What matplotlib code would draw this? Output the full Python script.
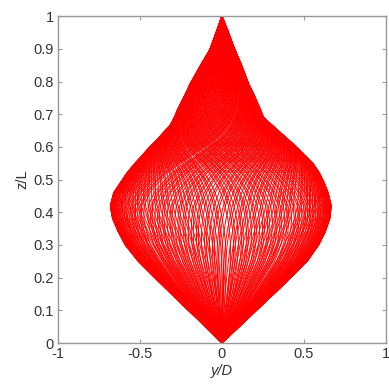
import numpy as np
import matplotlib
matplotlib.use("Agg")
import matplotlib.pyplot as plt

plt.rcParams['font.family'] = ['Liberation Sans', 'DejaVu Sans']

# Response envelope along the riser (max / min y/D at each z/L station)
z_nodes = [0.0, 0.05, 0.1, 0.18, 0.25, 0.3, 0.34, 0.38, 0.42, 0.46, 0.49, 0.52,
           0.55, 0.6, 0.62, 0.667, 0.69, 0.713, 0.76, 0.794, 0.85, 0.896, 0.95, 1.0]
env_right = [0.0, 0.105, 0.21, 0.38, 0.52, 0.59, 0.63, 0.658, 0.667, 0.648, 0.624, 0.595,
             0.555, 0.455, 0.41, 0.305, 0.254, 0.236, 0.195, 0.162, 0.12, 0.08, 0.04, 0.0]
env_left = [0.0, -0.10, -0.205, -0.37, -0.51, -0.59, -0.632, -0.667, -0.681, -0.66, -0.62, -0.58,
            -0.53, -0.44, -0.40, -0.315, -0.29, -0.272, -0.225, -0.193, -0.13, -0.075, -0.035, 0.0]
# phase lag of the response along the span (rad)
phase_nodes = [0.0, 0.0, 0.005, 0.01, 0.02, 0.03, 0.045, 0.065, 0.09, 0.13, 0.18, 0.25,
               0.36, 0.62, 0.75, 1.0, 1.12, 1.22, 1.38, 1.5, 1.64, 1.74, 1.82, 1.86]

n_snapshots = 230

z = np.linspace(0, 1, 500)
a_r = np.interp(z, z_nodes, env_right)
a_l = np.interp(z, z_nodes, env_left)
phi = np.interp(z, z_nodes, phase_nodes)

fig = plt.figure(figsize=(3.89, 3.85), dpi=100)
ax = fig.add_axes([0.149, 0.109, 0.843, 0.849])

# snapshot phases spread evenly over the cycle
t = 2 * np.pi * ((np.arange(n_snapshots) * 0.6180339887) % 1.0)
for tk in t:
    c = np.cos(tk - phi)
    y = np.where(c >= 0, a_r * c, -a_l * c)
    ax.plot(y, z, color='red', lw=0.68)

ax.set_xlim(-1, 1)
ax.set_ylim(0, 1)
ax.set_xticks([-1, -0.5, 0, 0.5, 1])
ax.set_xticklabels(['-1', '-0.5', '0', '0.5', '1'])
ax.set_yticks(np.round(np.arange(0, 1.01, 0.1), 1))
ax.set_yticklabels(['0'] + ['%.1f' % v for v in np.arange(0.1, 0.95, 0.1)] + ['1'])
ax.tick_params(direction='in', top=True, right=True, length=3, width=0.8,
               color='#999999', labelsize=10.5, labelcolor='#333333', pad=3)
for s in ax.spines.values():
    s.set_color('#999999')
    s.set_linewidth(1.0)

ax.set_xlabel('y/D', fontsize=10.5, style='italic', color='#333333', labelpad=2)
ax.set_ylabel('z/L', fontsize=10.5, color='#333333', labelpad=3)

fig.savefig('out.png', dpi=100)
